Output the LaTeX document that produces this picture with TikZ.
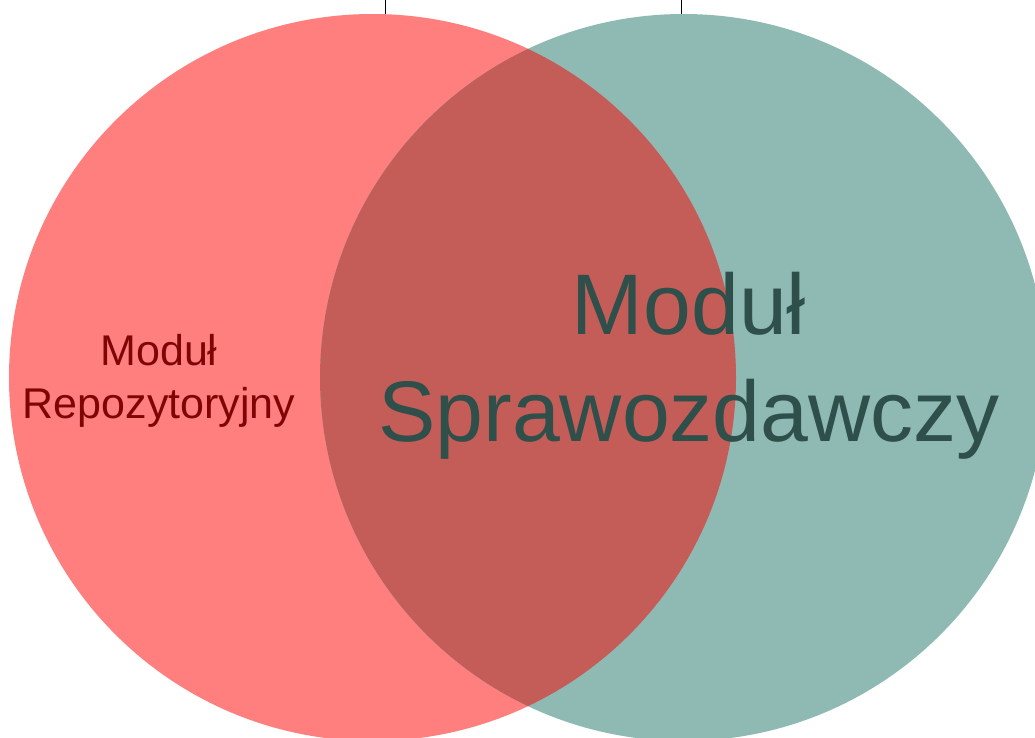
\documentclass[tikz,border=0pt]{standalone}
\usepackage{fontspec}
\setmainfont{Liberation Sans}
\usepackage{tikz}
\usepackage{color}

\definecolor{repofill}{HTML}{FF7F7F}
\definecolor{sprawfill}{HTML}{8FBAB3}
\definecolor{wspolfill}{HTML}{C45D58}
\definecolor{repotext}{HTML}{7F0505}
\definecolor{sprawtext}{HTML}{2E4F4A}

\begin{document}
\begin{tikzpicture}[x=1pt,y=-1pt]
\useasboundingbox (0,0) rectangle (1035,737);

\coordinate (repoc) at (372.5,377.5);
\coordinate (sprawc) at (683.5,377.5);

\fill[repofill] (repoc) circle[radius=363.5pt];
\fill[sprawfill] (sprawc) circle[radius=363.5pt];

\begin{scope}
\clip (repoc) circle[radius=363.5pt];
\fill[wspolfill] (sprawc) circle[radius=363.5pt];
\end{scope}

\coordinate (repotop) at (385,14);
\coordinate (repoend) at (385,0);
\draw[line width=0.8pt] (repotop) -- (repoend);

\coordinate (sprawtop) at (681,14);
\coordinate (sprawend) at (681,0);
\draw[line width=0.8pt] (sprawtop) -- (sprawend);

\node[inner sep=0pt,align=center,text=repotext,font=\fontsize{43}{53}\selectfont] (repo) at (159,381) {Moduł\\Repozytoryjny};

\node[inner sep=0pt,align=center,text=sprawtext,font=\fontsize{86}{107}\selectfont] (spraw) at (689,366) {Moduł\\Sprawozdawczy};
\end{tikzpicture}
\end{document}
